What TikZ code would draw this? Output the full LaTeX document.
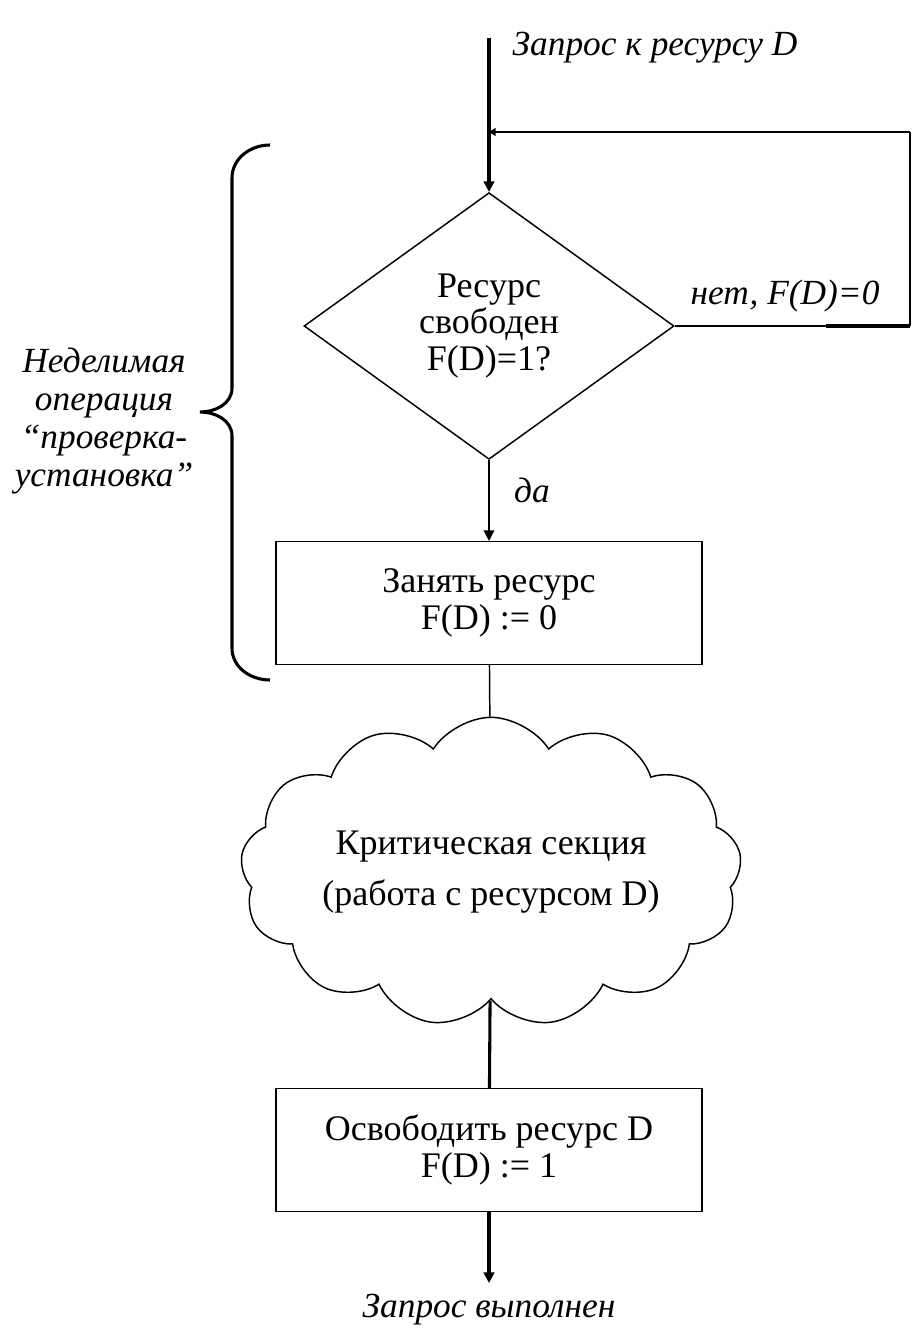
\documentclass[tikz,border=0pt]{standalone}
\usepackage{fontspec}
\setmainfont{Liberation Serif}
\usetikzlibrary{shapes.geometric,shapes.symbols,arrows.meta}
\begin{document}
\begin{tikzpicture}[x=0.75pt,y=-0.75pt,
  every node/.style={font=\fontsize{27}{28}\selectfont},
  thinline/.style={line width=1.1pt},
  thickline/.style={line width=2.3pt},
  box/.style={draw,line width=1.1pt,minimum width=319.5pt,minimum height=92pt,align=center,inner sep=0pt},
  lbl/.style={font=\fontsize{26.5}{28}\selectfont\itshape},
  tip/.style={-{Triangle[length=8pt,width=8pt]}}]
\useasboundingbox (0,0) rectangle (912,1333);
\fill[white] (0,0) rectangle (912,1333);

\coordinate (start) at (489,38);
\coordinate (join) at (489,132);
\coordinate (rt) at (910,132);
\coordinate (rc) at (910,326);
\coordinate (tk) at (826,326);
\coordinate (endp) at (489,1283);

\node[diamond,draw,line width=1.1pt,minimum width=277.5pt,minimum height=200pt,inner sep=0pt,align=center,font=\fontsize{27}{27.5}\selectfont] (dec) at (489,326) {Ресурс\\свободен\\F(D)=1?};
\node[box] (take) at (489,603) {Занять ресурс\\F(D) := 0};
\node[cloud,draw,line width=1.1pt,cloud puffs=13,cloud puff arc=115,cloud ignores aspect,minimum width=376pt,minimum height=232pt,align=center,inner sep=0pt,font=\fontsize{27}{38}\selectfont] (crit) at (491,872) {Критическая секция\\(работа с ресурсом D)};
\node[box] (free) at (489,1150) {Освободить ресурс D\\F(D) := 1};

\node[lbl,anchor=west] (req) at (508,48) {Запрос к ресурсу D};
\node[lbl] (no) at (785,296) {нет, F(D)=0};
\node[lbl] (yes) at (532,490) {да};
\node[lbl] (done) at (489,1310) {Запрос выполнен};
\node[lbl,align=center,font=\fontsize{26.5}{28.5}\selectfont\itshape] (atomic) at (104,421) {Неделимая\\операция\\“проверка-\\установка”};

\draw[thickline,tip] (start) -- (dec.north);
\draw[thinline] (dec.east) -- (rc);
\draw[thickline] (tk) -- (rc);
\draw[thinline] (rc) -- (rt);
\draw[thinline,-{Triangle[length=5pt,width=6pt]}] (rt) -- (join);
\draw[thinline,tip] (dec.south) -- (take.north);
\draw[thinline] (take) -- (crit);
\draw[thickline] (crit) -- (free);
\draw[thickline,tip] (free.south) -- (endp);

\draw[thickline] (270,145) to[out=180,in=90] (232,178) -- (232,388)
  to[out=-90,in=0] (200,412) to[out=0,in=90] (232,436) -- (232,648)
  to[out=-90,in=180] (270,680);
\end{tikzpicture}
\end{document}
